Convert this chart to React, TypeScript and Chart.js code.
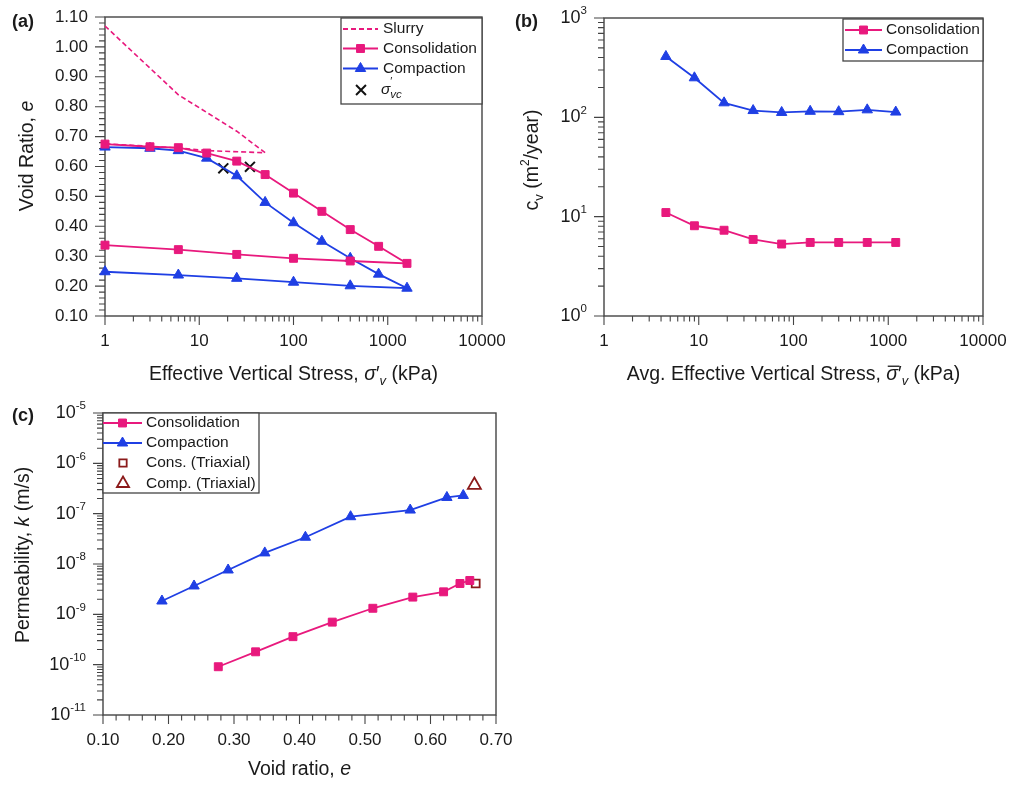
import { useEffect, useRef } from 'react';
import { Chart, registerables } from 'chart.js';

Chart.register(...registerables);

const PINK = '#e8197d';
const BLUE = '#1f3fe4';
const DARKRED = '#8b1a1a';
const AXIS = '#444444';
const TEXT = '#1a1a1a';
const FONT = '"Liberation Sans", Arial, Helvetica, sans-serif';

// ---------- Panel (a) data ----------
const aStress = [1, 3, 6, 12, 25, 50, 100, 200, 400, 800, 1600, 400, 100, 25, 6, 1];
const aConsVoid = [0.675, 0.666, 0.663, 0.645, 0.618, 0.573, 0.511, 0.45, 0.389, 0.333, 0.276, 0.284, 0.293, 0.306, 0.322, 0.337];
const aCompVoid = [0.665, 0.661, 0.653, 0.628, 0.569, 0.48, 0.412, 0.35, 0.293, 0.24, 0.193, 0.201, 0.213, 0.226, 0.237, 0.248];
const aSlurryStress = [1, 6, 25, 50, 12, 6, 1];
const aSlurryVoid = [1.07, 0.84, 0.718, 0.646, 0.653, 0.662, 0.676];
const aPrecStress = [18, 34.5];
const aPrecVoid = [0.594, 0.599];
const aXTicks = [1, 10, 100, 1000, 10000];
const aXTickLabels = ['1', '10', '100', '1000', '10000'];
const aYTicks = [0.1, 0.2, 0.3, 0.4, 0.5, 0.6, 0.7, 0.8, 0.9, 1.0, 1.1];
const aYTickLabels = ['0.10', '0.20', '0.30', '0.40', '0.50', '0.60', '0.70', '0.80', '0.90', '1.00', '1.10'];

// ---------- Panel (b) data ----------
const bStress = [4.5, 9, 18.5, 37.5, 75, 150, 300, 600, 1200];
const bConsCv = [11.0, 8.1, 7.3, 5.9, 5.3, 5.5, 5.5, 5.5, 5.5];
const bCompCv = [410, 250, 140, 117, 112, 115, 114, 119, 113];
const bXTicks = [1, 10, 100, 1000, 10000];
const bXTickLabels = ['1', '10', '100', '1000', '10000'];
const bYExponents = [0, 1, 2, 3];

// ---------- Panel (c) data ----------
const cConsVoid = [0.276, 0.333, 0.39, 0.45, 0.512, 0.573, 0.62, 0.645, 0.66];
const cConsK = [9.1e-11, 1.8e-10, 3.6e-10, 7.0e-10, 1.32e-9, 2.2e-9, 2.8e-9, 4.1e-9, 4.7e-9];
const cCompVoid = [0.19, 0.239, 0.291, 0.347, 0.409, 0.478, 0.569, 0.625, 0.65];
const cCompK = [1.84e-9, 3.66e-9, 7.6e-9, 1.66e-8, 3.4e-8, 8.7e-8, 1.18e-7, 2.1e-7, 2.3e-7];
const cConsTriVoid = [0.669];
const cConsTriK = [4.1e-9];
const cCompTriVoid = [0.667];
const cCompTriK = [3.7e-7];
const cXTicks = [0.1, 0.2, 0.3, 0.4, 0.5, 0.6, 0.7];
const cXTickLabels = ['0.10', '0.20', '0.30', '0.40', '0.50', '0.60', '0.70'];
const cYExponents = [-11, -10, -9, -8, -7, -6, -5];

// ---------- helpers ----------
type Seg = { t: string; it?: boolean; b?: boolean; sz?: number; dy?: number; bar?: boolean; noAdv?: boolean };

const pts = (xs: number[], ys: number[]) => xs.map((x, i) => ({ x, y: ys[i] }));

function fontOf(s: Seg, base: number) {
  return `${s.it ? 'italic ' : ''}${s.b ? 'bold ' : ''}${s.sz ?? base}px ${FONT}`;
}

function drawRich(ctx: CanvasRenderingContext2D, x: number, y: number, segs: Seg[], base: number,
  align: 'left' | 'center' | 'right', rot = 0, color = TEXT) {
  ctx.save();
  ctx.translate(x, y);
  if (rot) ctx.rotate(rot);
  ctx.fillStyle = color;
  ctx.strokeStyle = color;
  ctx.textBaseline = 'middle';
  ctx.textAlign = 'left';
  const ws = segs.map((s) => { ctx.font = fontOf(s, base); return ctx.measureText(s.t).width; });
  const total = segs.reduce((a, s, i) => a + (s.noAdv ? 0 : ws[i]), 0);
  let cx = align === 'left' ? 0 : align === 'center' ? -total / 2 : -total;
  segs.forEach((s, i) => {
    ctx.font = fontOf(s, base);
    const dy = s.dy ?? 0;
    ctx.fillText(s.t, cx, dy);
    if (s.bar) {
      const sz = s.sz ?? base;
      ctx.lineWidth = 1.3;
      ctx.beginPath();
      ctx.moveTo(cx + 1.5, dy - sz * 0.45);
      ctx.lineTo(cx + ws[i] + 1.5, dy - sz * 0.45);
      ctx.stroke();
    }
    if (!s.noAdv) cx += ws[i];
  });
  ctx.restore();
}

function drawMarker(ctx: CanvasRenderingContext2D, style: string, x: number, y: number, r: number,
  stroke: string, fill: string | null, lw: number) {
  ctx.save();
  ctx.beginPath();
  ctx.lineWidth = lw;
  ctx.strokeStyle = stroke;
  if (style === 'rect') {
    const s = Math.SQRT1_2 * r;
    ctx.rect(x - s, y - s, 2 * s, 2 * s);
  } else if (style === 'triangle') {
    for (let k = 0; k < 3; k++) {
      const a = (k * 2 * Math.PI) / 3;
      const px = x + Math.sin(a) * r;
      const py = y - Math.cos(a) * r;
      if (k === 0) ctx.moveTo(px, py); else ctx.lineTo(px, py);
    }
    ctx.closePath();
  } else if (style === 'crossRot') {
    const d = Math.SQRT1_2 * r;
    ctx.moveTo(x - d, y - d); ctx.lineTo(x + d, y + d);
    ctx.moveTo(x + d, y - d); ctx.lineTo(x - d, y + d);
  }
  if (fill) { ctx.fillStyle = fill; ctx.fill(); }
  ctx.stroke();
  ctx.restore();
}

function linMinor(majors: number[], parts: number) {
  const out: number[] = [];
  for (let i = 0; i < majors.length - 1; i++) {
    const step = (majors[i + 1] - majors[i]) / parts;
    for (let j = 1; j < parts; j++) out.push(majors[i] + step * j);
  }
  return out;
}

function logMinor(majors: number[]) {
  const out: number[] = [];
  for (let i = 0; i < majors.length - 1; i++) {
    for (let k = 2; k <= 9; k++) out.push(majors[i] * k);
  }
  return out;
}

type LegendItem = {
  y: number;
  line?: { x1: number; x2: number; color: string; dash?: number[] };
  marker?: { x: number; style: string; color: string; fill: string | null; r: number; lw: number };
  textX: number;
  segs: Seg[];
};

type PanelSpec = {
  xMajor: number[]; xMinor: number[]; xLabels: Seg[][];
  yMajor: number[]; yMinor: number[]; yLabels: Seg[][];
  tag: { x: number; y: number; t: string };
  xTitle: { x: number; y: number; segs: Seg[] };
  yTitle: { x: number; y: number; segs: Seg[] };
  legend: { box: [number, number, number, number]; items: LegendItem[] };
};

function panelPlugin(spec: PanelSpec) {
  return {
    id: 'panelDecor',
    beforeDatasetsDraw(chart: any) {
      const { ctx, chartArea: a, scales } = chart;
      const xs = scales.x;
      const ys = scales.y;
      ctx.save();
      ctx.strokeStyle = AXIS;
      ctx.lineWidth = 1.4;
      ctx.strokeRect(a.left, a.top, a.right - a.left, a.bottom - a.top);
      ctx.lineWidth = 1.1;
      ctx.beginPath();
      spec.xMajor.forEach((v) => { const p = xs.getPixelForValue(v); ctx.moveTo(p, a.bottom); ctx.lineTo(p, a.bottom + 9); });
      spec.xMinor.forEach((v) => { const p = xs.getPixelForValue(v); ctx.moveTo(p, a.bottom); ctx.lineTo(p, a.bottom + 5.5); });
      spec.yMajor.forEach((v) => { const p = ys.getPixelForValue(v); ctx.moveTo(a.left - 10, p); ctx.lineTo(a.left, p); });
      spec.yMinor.forEach((v) => { const p = ys.getPixelForValue(v); ctx.moveTo(a.left - 6, p); ctx.lineTo(a.left, p); });
      ctx.stroke();
      ctx.restore();
      spec.xMajor.forEach((v, i) => {
        drawRich(ctx, xs.getPixelForValue(v), a.bottom + 25, spec.xLabels[i], 17, 'center');
      });
      spec.yMajor.forEach((v, i) => {
        drawRich(ctx, a.left - 17, ys.getPixelForValue(v), spec.yLabels[i], 17, 'right');
      });
      drawRich(ctx, spec.xTitle.x, spec.xTitle.y, spec.xTitle.segs, 19.5, 'center');
      drawRich(ctx, spec.yTitle.x, spec.yTitle.y, spec.yTitle.segs, 19.5, 'center', -Math.PI / 2);
      drawRich(ctx, spec.tag.x, spec.tag.y, [{ t: spec.tag.t, b: true }], 18, 'left');
    },
    afterDraw(chart: any) {
      const { ctx } = chart;
      const [l, t, r, b] = spec.legend.box;
      ctx.save();
      ctx.fillStyle = '#ffffff';
      ctx.fillRect(l, t, r - l, b - t);
      ctx.strokeStyle = AXIS;
      ctx.lineWidth = 1.3;
      ctx.strokeRect(l, t, r - l, b - t);
      ctx.restore();
      spec.legend.items.forEach((it) => {
        if (it.line) {
          ctx.save();
          ctx.strokeStyle = it.line.color;
          ctx.lineWidth = 1.8;
          if (it.line.dash) ctx.setLineDash(it.line.dash);
          ctx.beginPath();
          ctx.moveTo(it.line.x1, it.y);
          ctx.lineTo(it.line.x2, it.y);
          ctx.stroke();
          ctx.restore();
        }
        if (it.marker) {
          const m = it.marker;
          drawMarker(ctx, m.style, m.x, it.y, m.r, m.color, m.fill, m.lw);
        }
        drawRich(ctx, it.textX, it.y, it.segs, 15.5, 'left');
      });
    },
  };
}

function baseOptions(xScale: any, yScale: any, pad: { top: number; right: number }, yWidth: number, xHeight: number) {
  return {
    responsive: false,
    animation: false,
    events: [],
    layout: { padding: { left: 0, top: pad.top, right: pad.right, bottom: 0 } },
    plugins: { legend: { display: false }, tooltip: { enabled: false }, title: { display: false } },
    scales: {
      x: {
        ...xScale,
        ticks: { display: false },
        grid: { display: false },
        border: { display: false },
        afterFit: (s: any) => { s.height = xHeight; },
      },
      y: {
        ...yScale,
        ticks: { display: false },
        grid: { display: false },
        border: { display: false },
        afterFit: (s: any) => { s.width = yWidth; },
      },
    },
  };
}

const consStyle = {
  showLine: true, borderColor: PINK, backgroundColor: PINK, borderWidth: 1.8,
  pointStyle: 'rect', pointRadius: 5.6, pointBorderWidth: 1, pointBorderColor: PINK, pointBackgroundColor: PINK, clip: false,
};
const compStyle = {
  showLine: true, borderColor: BLUE, backgroundColor: BLUE, borderWidth: 1.8,
  pointStyle: 'triangle', pointRadius: 6, pointBorderWidth: 1, pointBorderColor: BLUE, pointBackgroundColor: BLUE, clip: false,
};

const expLabel = (e: number): Seg[] => [{ t: '10', sz: 18 }, { t: String(e), sz: 11.5, dy: -7 }];

function makeA(): any {
  const spec: PanelSpec = {
    xMajor: aXTicks, xMinor: logMinor(aXTicks), xLabels: aXTickLabels.map((t) => [{ t }]),
    yMajor: aYTicks, yMinor: linMinor(aYTicks, 5), yLabels: aYTickLabels.map((t) => [{ t }]),
    tag: { x: 12, y: 22, t: '(a)' },
    xTitle: { x: 293.5, y: 375, segs: [{ t: 'Effective Vertical Stress, ' }, { t: 'σ', it: true }, { t: '′' }, { t: 'v', it: true, sz: 13, dy: 6 }, { t: ' (kPa)' }] },
    yTitle: { x: 28, y: 156, segs: [{ t: 'Void Ratio, ' }, { t: 'e', it: true }] },
    legend: {
      box: [341, 18, 482, 104],
      items: [
        { y: 29, line: { x1: 343, x2: 378, color: PINK, dash: [5, 3] }, textX: 383, segs: [{ t: 'Slurry' }] },
        { y: 48.5, line: { x1: 343, x2: 378, color: PINK }, marker: { x: 360.5, style: 'rect', color: PINK, fill: PINK, r: 5.6, lw: 1 }, textX: 383, segs: [{ t: 'Consolidation' }] },
        { y: 68.5, line: { x1: 343, x2: 378, color: BLUE }, marker: { x: 360.5, style: 'triangle', color: BLUE, fill: BLUE, r: 6, lw: 1 }, textX: 383, segs: [{ t: 'Compaction' }] },
        { y: 90, marker: { x: 361, style: 'crossRot', color: '#111111', fill: null, r: 7, lw: 2 }, textX: 381, segs: [{ t: 'σ', it: true }, { t: '′', sz: 11, dy: -8, noAdv: true }, { t: 'vc', it: true, sz: 11.5, dy: 5 }] },
      ],
    },
  };
  return {
    type: 'scatter',
    data: {
      datasets: [
        { data: pts(aSlurryStress, aSlurryVoid), showLine: true, borderColor: PINK, borderWidth: 1.6, borderDash: [5, 3], pointRadius: 0, clip: false },
        { data: pts(aStress, aConsVoid), ...consStyle },
        { data: pts(aStress, aCompVoid), ...compStyle },
        { data: pts(aPrecStress, aPrecVoid), showLine: false, pointStyle: 'crossRot', pointRadius: 7, pointBorderWidth: 2, pointBorderColor: '#111111', borderColor: '#111111', clip: false },
      ],
    },
    options: baseOptions({ type: 'logarithmic', min: 1, max: 10000 }, { type: 'linear', min: 0.1, max: 1.1 }, { top: 17, right: 38 }, 105, 74),
    plugins: [panelPlugin(spec)],
  };
}

function makeB(): any {
  const yMajor = bYExponents.map((e) => Math.pow(10, e));
  const spec: PanelSpec = {
    xMajor: bXTicks, xMinor: logMinor(bXTicks), xLabels: bXTickLabels.map((t) => [{ t }]),
    yMajor, yMinor: logMinor(yMajor), yLabels: bYExponents.map(expLabel),
    tag: { x: 15, y: 22, t: '(b)' },
    xTitle: { x: 293.5, y: 375, segs: [{ t: 'Avg. Effective Vertical Stress, ' }, { t: 'σ', it: true, bar: true }, { t: '′' }, { t: 'v', it: true, sz: 13, dy: 6 }, { t: ' (kPa)' }] },
    yTitle: { x: 33, y: 160, segs: [{ t: 'c' }, { t: 'v', sz: 13, dy: 6 }, { t: ' (m' }, { t: '2', sz: 12, dy: -7 }, { t: '/year)' }] },
    legend: {
      box: [343, 19, 483, 61],
      items: [
        { y: 30, line: { x1: 345, x2: 382, color: PINK }, marker: { x: 363.5, style: 'rect', color: PINK, fill: PINK, r: 5.6, lw: 1 }, textX: 386, segs: [{ t: 'Consolidation' }] },
        { y: 50, line: { x1: 345, x2: 382, color: BLUE }, marker: { x: 363.5, style: 'triangle', color: BLUE, fill: BLUE, r: 6, lw: 1 }, textX: 386, segs: [{ t: 'Compaction' }] },
      ],
    },
  };
  return {
    type: 'scatter',
    data: {
      datasets: [
        { data: pts(bStress, bConsCv), ...consStyle },
        { data: pts(bStress, bCompCv), ...compStyle },
      ],
    },
    options: baseOptions({ type: 'logarithmic', min: 1, max: 10000 }, { type: 'logarithmic', min: 1, max: 1000 }, { top: 18, right: 28 }, 104, 74),
    plugins: [panelPlugin(spec)],
  };
}

function makeC(): any {
  const yMajor = cYExponents.map((e) => Math.pow(10, e));
  const spec: PanelSpec = {
    xMajor: cXTicks, xMinor: linMinor(cXTicks, 5), xLabels: cXTickLabels.map((t) => [{ t }]),
    yMajor, yMinor: logMinor(yMajor), yLabels: cYExponents.map(expLabel),
    tag: { x: 12, y: 26, t: '(c)' },
    xTitle: { x: 299.5, y: 380, segs: [{ t: 'Void ratio, ' }, { t: 'e', it: true }] },
    yTitle: { x: 24, y: 165, segs: [{ t: 'Permeability, ' }, { t: 'k', it: true }, { t: ' (m/s)' }] },
    legend: {
      box: [103, 23, 259, 103],
      items: [
        { y: 33, line: { x1: 103, x2: 142, color: PINK }, marker: { x: 122.5, style: 'rect', color: PINK, fill: PINK, r: 5.6, lw: 1 }, textX: 146, segs: [{ t: 'Consolidation' }] },
        { y: 53, line: { x1: 103, x2: 142, color: BLUE }, marker: { x: 122.5, style: 'triangle', color: BLUE, fill: BLUE, r: 6, lw: 1 }, textX: 146, segs: [{ t: 'Compaction' }] },
        { y: 73, marker: { x: 123, style: 'rect', color: DARKRED, fill: '#ffffff', r: 5.2, lw: 1.8 }, textX: 146, segs: [{ t: 'Cons. (Triaxial)' }] },
        { y: 93.5, marker: { x: 123, style: 'triangle', color: DARKRED, fill: '#ffffff', r: 7, lw: 1.8 }, textX: 146, segs: [{ t: 'Comp. (Triaxial)' }] },
      ],
    },
  };
  return {
    type: 'scatter',
    data: {
      datasets: [
        { data: pts(cConsVoid, cConsK), ...consStyle },
        { data: pts(cCompVoid, cCompK), ...compStyle },
        { data: pts(cConsTriVoid, cConsTriK), showLine: false, pointStyle: 'rect', pointRadius: 5.6, pointBorderWidth: 1.8, pointBorderColor: DARKRED, pointBackgroundColor: '#ffffff', clip: false },
        { data: pts(cCompTriVoid, cCompTriK), showLine: false, pointStyle: 'triangle', pointRadius: 7.5, pointBorderWidth: 1.8, pointBorderColor: DARKRED, pointBackgroundColor: '#ffffff', clip: false },
      ],
    },
    options: baseOptions({ type: 'linear', min: 0.1, max: 0.7 }, { type: 'logarithmic', min: 1e-11, max: 1e-5 }, { top: 23, right: 24 }, 103, 70),
    plugins: [panelPlugin(spec)],
  };
}

function Panel({ left, top, width, height, make }: { left: number; top: number; width: number; height: number; make: () => any }) {
  const ref = useRef<HTMLCanvasElement>(null);
  useEffect(() => {
    if (!ref.current) return;
    const chart = new Chart(ref.current, make());
    return () => chart.destroy();
  }, [make]);
  return (
    <canvas
      ref={ref}
      width={width}
      height={height}
      style={{ position: 'absolute', left, top, width, height, display: 'block' }}
    />
  );
}

export default function App() {
  return (
    <div style={{ position: 'absolute', left: 0, top: 0, width: 1011, height: 785, background: '#ffffff', overflow: 'hidden' }}>
      <Panel left={500} top={0} width={511} height={390} make={makeB} />
      <Panel left={0} top={0} width={520} height={390} make={makeA} />
      <Panel left={0} top={390} width={520} height={395} make={makeC} />
    </div>
  );
}
